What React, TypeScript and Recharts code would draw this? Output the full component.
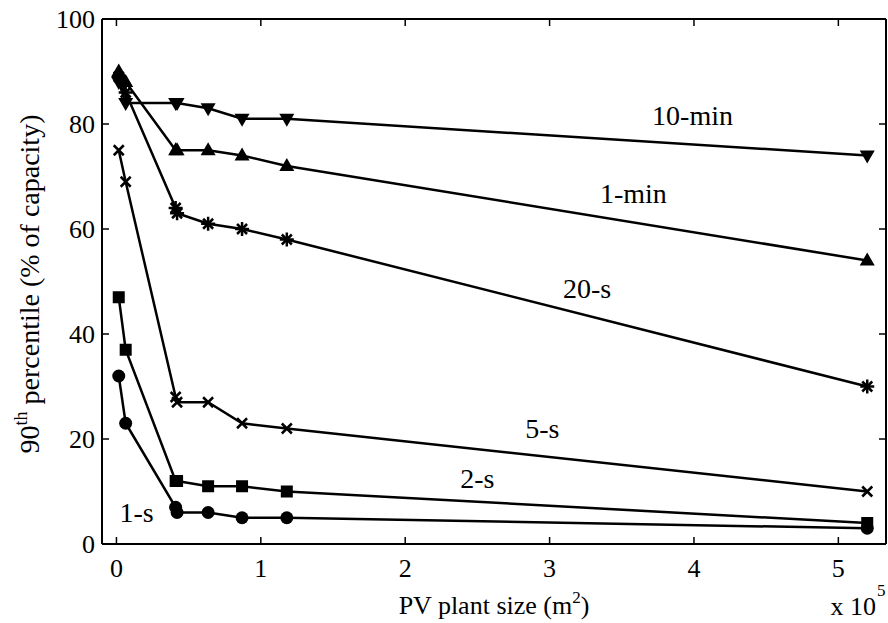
import { LineChart, Line, XAxis, YAxis, ReferenceLine, ReferenceDot, Label } from "recharts";

// PV plant size (x 10^5 m^2)
const sizes = [0.016, 0.064, 0.41, 0.42, 0.635, 0.87, 1.18, 5.2];

// 90th percentile (% of capacity) per averaging window
const oneSec = [32, 23, 7, 6, 6, 5, 5, 3];
const twoSec = [47, 37, 12, 12, 11, 11, 10, 4];
const fiveSec = [75, 69, 28, 27, 27, 23, 22, 10];
const twentySec = [89, 86, 64, 63, 61, 60, 58, 30];
const oneMin = [90, 88, 75, 75, 75, 74, 72, 54];
const tenMin = [88, 84, 84, 84, 83, 81, 81, 74];

const xTicks = [0, 1, 2, 3, 4, 5];
const yTicks = [0, 20, 40, 60, 80, 100];

// text annotations next to each curve (data coords)
const labels = [
  { text: "10-min", x: 3.99, y: 81.6 },
  { text: "1-min", x: 3.58, y: 66.7 },
  { text: "20-s", x: 3.26, y: 48.6 },
  { text: "5-s", x: 2.95, y: 22 },
  { text: "2-s", x: 2.5, y: 12.4 },
  { text: "1-s", x: 0.14, y: 6 },
];

const data = sizes.map((x, i) => ({
  x,
  s1: oneSec[i],
  s2: twoSec[i],
  s5: fiveSec[i],
  s20: twentySec[i],
  m1: oneMin[i],
  m10: tenMin[i],
}));

const W = 888;
const H = 623;
const LEFT = 102;
const RIGHT = 886;
const TOP = 19;
const BOTTOM = 544;
const TICK = 7;
const serif = { fontFamily: '"Liberation Serif", "DejaVu Serif", serif' };

type Kind = "circle" | "square" | "x" | "star" | "up" | "down";

function makeDot(kind: Kind) {
  return (p: any) => {
    const { cx, cy, index } = p;
    const k = `${kind}-${index}`;
    if (cx == null || cy == null) return <g key={k} />;
    if (kind === "circle") return <circle key={k} cx={cx} cy={cy} r={6.5} fill="#000" />;
    if (kind === "square")
      return <rect key={k} x={cx - 6} y={cy - 6} width={12} height={12} fill="#000" />;
    if (kind === "x")
      return (
        <g key={k} stroke="#000" strokeWidth={2.5}>
          <line x1={cx - 5} y1={cy - 5} x2={cx + 5} y2={cy + 5} />
          <line x1={cx - 5} y1={cy + 5} x2={cx + 5} y2={cy - 5} />
        </g>
      );
    if (kind === "star")
      return (
        <g key={k} stroke="#000" strokeWidth={2.5}>
          <line x1={cx - 7} y1={cy} x2={cx + 7} y2={cy} />
          <line x1={cx} y1={cy - 7} x2={cx} y2={cy + 7} />
          <line x1={cx - 5} y1={cy - 5} x2={cx + 5} y2={cy + 5} />
          <line x1={cx - 5} y1={cy + 5} x2={cx + 5} y2={cy - 5} />
        </g>
      );
    if (kind === "up")
      return <polygon key={k} points={`${cx},${cy - 8} ${cx + 7.5},${cy + 5} ${cx - 7.5},${cy + 5}`} fill="#000" />;
    return <polygon key={k} points={`${cx},${cy + 8} ${cx + 7.5},${cy - 5} ${cx - 7.5},${cy - 5}`} fill="#000" />;
  };
}

const XTick = (p: any) => {
  const { x, payload } = p;
  return (
    <g>
      <line x1={x} y1={BOTTOM} x2={x} y2={BOTTOM - TICK} stroke="#000" strokeWidth={1.5} />
      <line x1={x} y1={TOP} x2={x} y2={TOP + TICK} stroke="#000" strokeWidth={1.5} />
      <text x={x} y={BOTTOM + 24} textAnchor="middle" dominantBaseline="central" fontSize={26} style={serif} fill="#000">
        {payload.value}
      </text>
    </g>
  );
};

const YTick = (p: any) => {
  const { y, payload } = p;
  return (
    <g>
      <line x1={LEFT} y1={y} x2={LEFT + TICK} y2={y} stroke="#000" strokeWidth={1.5} />
      <line x1={RIGHT - TICK} y1={y} x2={RIGHT} y2={y} stroke="#000" strokeWidth={1.5} />
      <text x={95} y={y} textAnchor="end" dominantBaseline="central" fontSize={26} style={serif} fill="#000">
        {payload.value}
      </text>
    </g>
  );
};

const series: { key: string; kind: Kind }[] = [
  { key: "m10", kind: "down" },
  { key: "m1", kind: "up" },
  { key: "s20", kind: "star" },
  { key: "s5", kind: "x" },
  { key: "s2", kind: "square" },
  { key: "s1", kind: "circle" },
];

export default function App() {
  return (
    <div style={{ position: "absolute", left: 0, top: 0, width: W, height: H, background: "#fff" }}>
      <LineChart
        width={W}
        height={H}
        data={data}
        margin={{ top: TOP, right: W - RIGHT, bottom: 0, left: 0 }}
      >
        <XAxis
          dataKey="x"
          type="number"
          domain={[-0.1, 5.33]}
          ticks={xTicks}
          allowDataOverflow
          height={H - BOTTOM}
          axisLine={{ stroke: "#000", strokeWidth: 2 }}
          tickLine={false}
          tick={<XTick />}
        >
          <Label
            content={() => (
              <g style={serif} fill="#000">
                <text x={494} y={614} textAnchor="middle" fontSize={26} style={serif}>
                  PV plant size (m
                  <tspan fontSize={17} dy={-11}>2</tspan>
                  <tspan dy={11}>)</tspan>
                </text>
                <text x={876} y={615} textAnchor="end" fontSize={26} style={serif}>
                  x 10
                </text>
                <text x={877} y={596} textAnchor="start" fontSize={17} style={serif}>
                  5
                </text>
              </g>
            )}
          />
        </XAxis>
        <YAxis
          type="number"
          domain={[0, 100]}
          ticks={yTicks}
          width={LEFT}
          axisLine={{ stroke: "#000", strokeWidth: 2 }}
          tickLine={false}
          tick={<YTick />}
        >
          <Label
            content={() => (
              <text
                x={39}
                y={284}
                transform="rotate(-90, 39, 284)"
                textAnchor="middle"
                fontSize={28}
                style={serif}
                fill="#000"
              >
                90
                <tspan fontSize={18} dy={-12}>th</tspan>
                <tspan dy={12}> percentile (% of capacity)</tspan>
              </text>
            )}
          />
        </YAxis>
        <ReferenceLine y={100} stroke="#000" strokeWidth={2} />
        <ReferenceLine x={5.33} stroke="#000" strokeWidth={2} />
        {series.map((s) => (
          <Line
            key={s.key}
            dataKey={s.key}
            type="linear"
            stroke="#000"
            strokeWidth={2.5}
            dot={makeDot(s.kind)}
            activeDot={false}
            isAnimationActive={false}
          />
        ))}
        {labels.map((l) => (
          <ReferenceDot
            key={l.text}
            x={l.x}
            y={l.y}
            r={0}
            shape={(p: any) => (
              <text
                x={p.cx}
                y={p.cy}
                textAnchor="middle"
                dominantBaseline="central"
                fontSize={28}
                style={serif}
                fill="#000"
              >
                {l.text}
              </text>
            )}
          />
        ))}
      </LineChart>
    </div>
  );
}
